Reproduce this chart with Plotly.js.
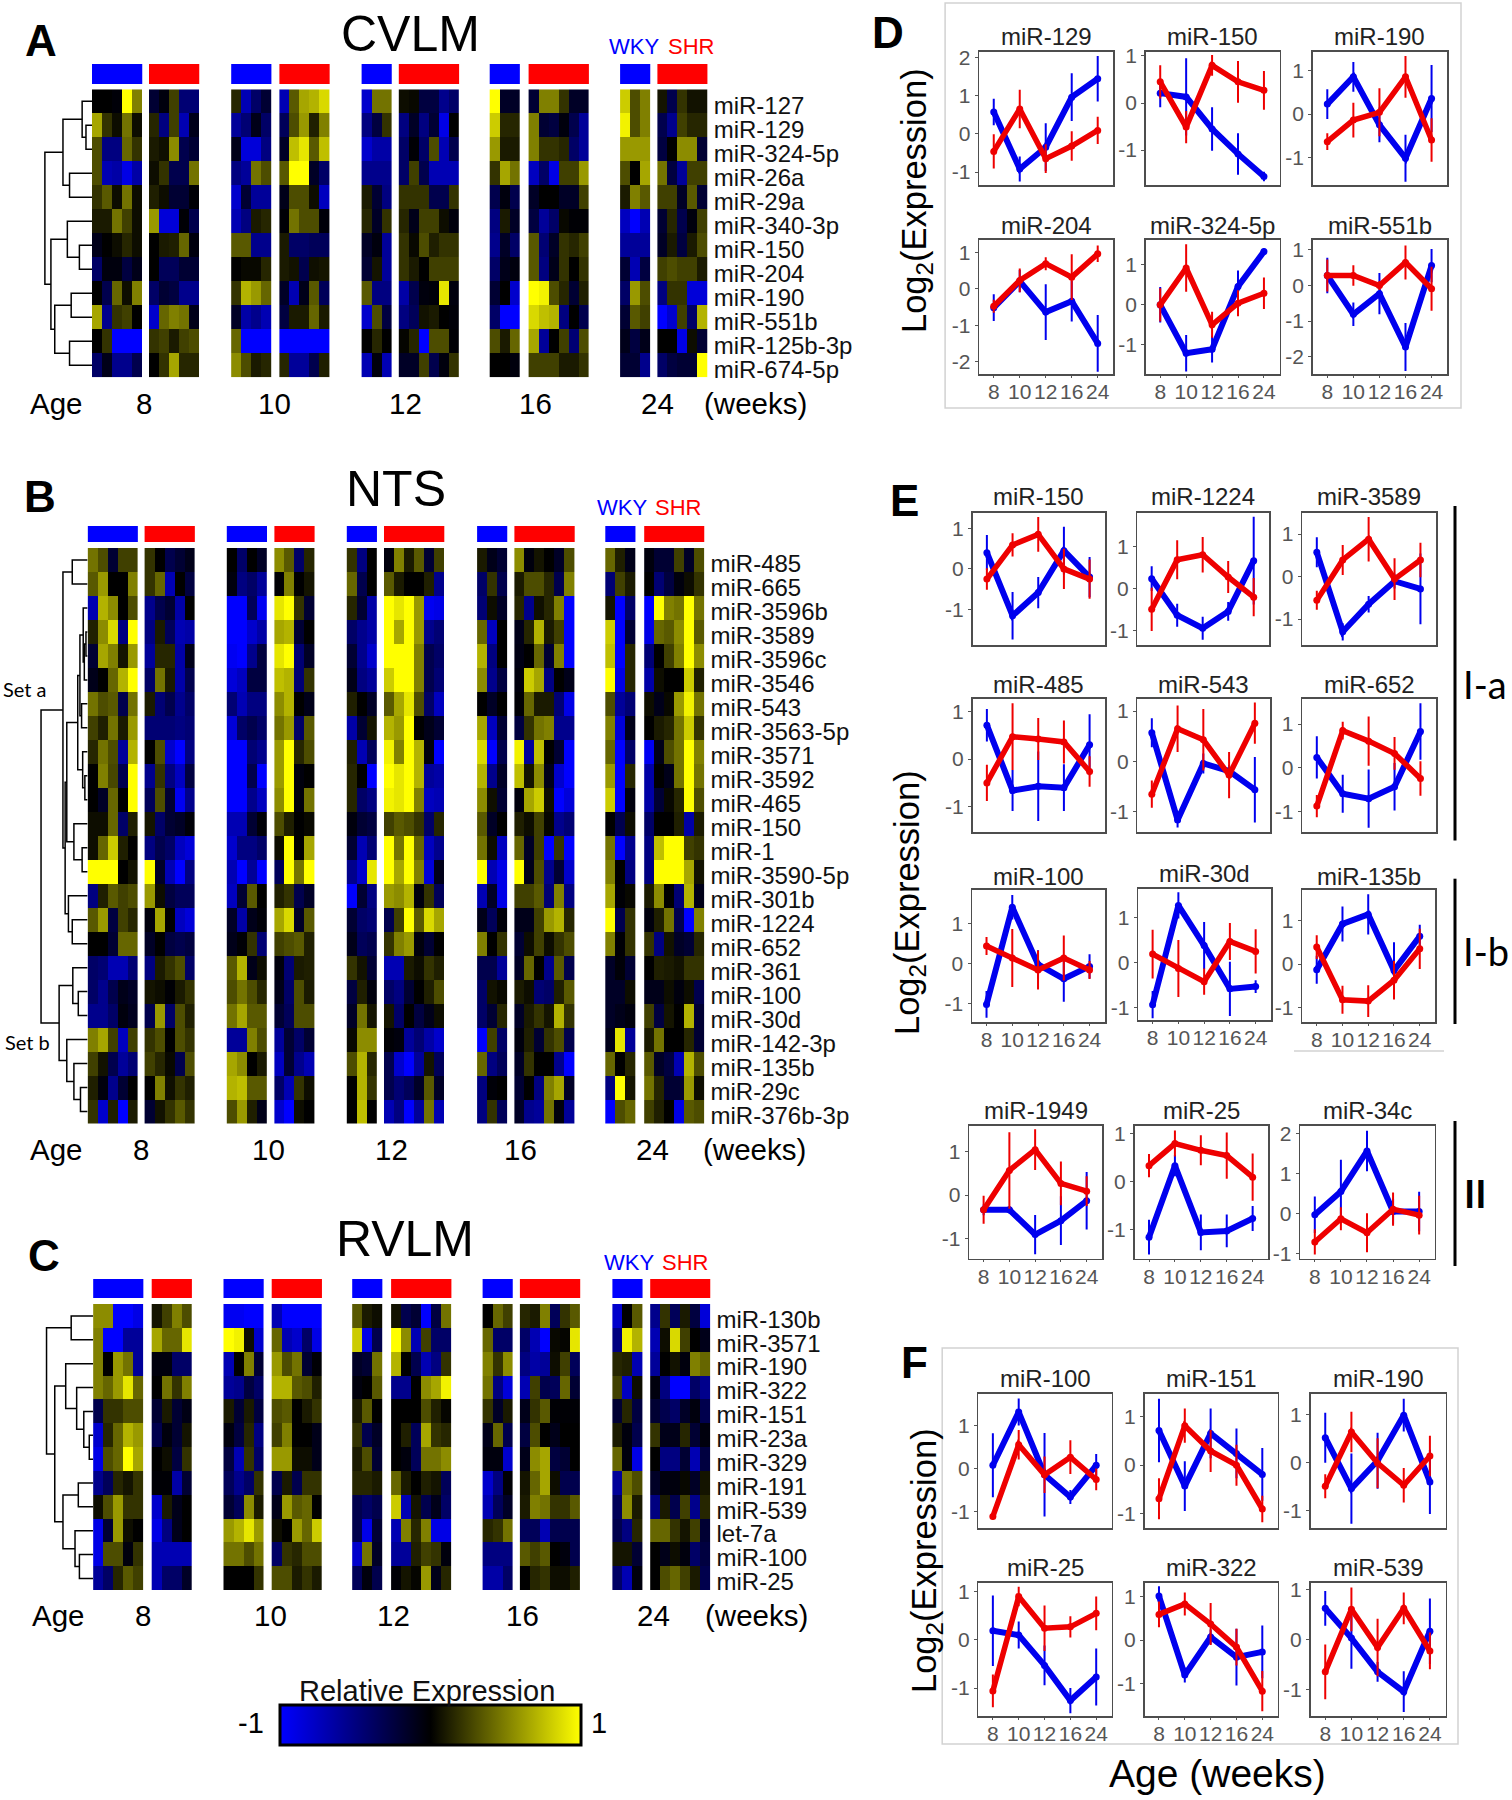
<!DOCTYPE html>
<html><head><meta charset="utf-8">
<script src="https://cdn.plot.ly/plotly-3.0.1.min.js"></script>
<style>html,body{margin:0;padding:0;background:#fff}</style></head>
<body><div id="chart" style="width:1512px;height:1800px"></div>
<script>
// ---------- heatmap data: rows × [8W,8S,10W,10S,12W,12S,16W,16S,24W,24S] ----------
const A_mirs=['miR-127','miR-129','miR-324-5p','miR-26a','miR-29a','miR-340-3p','miR-150','miR-204','miR-190','miR-551b','miR-125b-3p','miR-674-5p'];
const A_values=[
[[0,0,-.03,1,.5],[-.2,-.05,.25,-.45,-.45],[.15,-.7,-.4,-.2],[-.7,.35,.65,.7,.85],[-.8,.45,.45],[.05,.03,-.25,-.25,-.55,-.4],[1,-.15,-.15],[-.2,.5,.5,.2,-.15,-.15],[.8,.3,.5],[.08,-.3,.2,.07,.07]],
[[.65,.2,.05,.45,.05],[.15,-.5,.25,-.7,-.1],[-.6,-.45,-.1,-.4],[-.35,.3,.6,.12,.5],[-.5,-.25,.2],[-.5,-.15,-.5,-.2,-.9,0],[.8,.15,.15],[.5,-.2,-.25,-.05,-.3,-.6],[.95,.3,.5],[-.3,-.55,.25,.15,.15]],
[[.3,-.5,-.5,.4,.2],[.1,.06,.55,-.3,-.2],[-.1,-.85,-.85,-.5],[-.15,.75,.9,.35,.75],[-.8,-.65,-.65],[-.4,-.02,-.4,.3,-.7,-.3],[.6,.1,.1],[.5,.2,.2,.15,-.4,-.6],[.6,.6,.6],[-.25,0,.55,.55,-.2]],
[[.3,-.7,-.65,-.9,-.65],[.05,.2,-.3,-.3,.45],[-.5,-.6,.45,.3],[.35,1,1,-.15,-.4],[-.55,-.55,-.55],[-.4,.25,-.3,-.7,-.7,-.7],[.2,.65,.45],[-.75,-.4,-.9,.25,.25,.6],[.3,0,.65],[.45,-.25,-.6,.25,.25]],
[[.2,.35,.05,.45,.05],[.12,.05,-.2,-.2,-.02],[-.8,-.2,-.6,-.6],[-.1,.3,.3,.05,-.75],[.1,-.2,-.5],[.2,.2,.2,-.3,-.3,.2],[-.3,-.05,-.3],[-.15,0,0,-.15,-.15,.25],[.1,.5,.35],[.25,.25,-.15,.35,-.2]],
[[.1,.1,.45,.25,.05],[.6,-.85,-.85,-.02,-.3],[-.7,-.5,.1,.15],[-.02,.45,.3,.3,-.03],[.15,-.15,.2],[.15,-.1,.25,.25,.05,-.05],[-.5,.1,-.15],[-.25,-.6,-.4,.03,-.02,-.02],[-.75,-1,-.7],[-.2,.15,-.3,-.05,.25]],
[[-.1,0,.05,.15,.05],[0,.1,.12,.4,-.05],[.35,.35,-.55,-.55],[.1,-.4,-.4,-.35,-.35],[-.15,-.05,-.6],[.2,.03,.3,.12,.2,.2],[-.55,-.15,-.4],[.35,-.45,-.15,.2,.15,.25],[-.6,-.6,-.6],[-.15,.1,-.25,.1,.3]],
[[-.4,-.05,-.05,-.25,-.1],[0,-.35,-.35,-.2,-.2],[0,.03,.03,.15],[.1,.07,-.3,.06,.08],[-.2,.08,-.6],[.2,.1,0,.25,.25,.25],[-.4,-.1,-.05],[.35,-.5,-.1,.2,0,.2],[-.2,-.7,-.25],[.25,.3,.25,.25,.1]],
[[0,-.3,.4,.05,.5],[-.4,-.2,-.25,-.55,-.55],[.2,.7,.6,.4],[-.15,-.7,-.1,.35,-.35],[.35,-.5,-.5],[-.65,-.3,-.05,-.03,.9,-.05],[-.2,0,-.8],[1,.95,.3,.15,-.2,.12],[-.4,.6,.3],[-.5,.2,.2,-.85,-.85]],
[[.65,-.55,.2,.25,0],[-.8,.4,.5,.45,-.1],[-.15,-.65,-.55,-.7],[-.25,.1,.1,.4,.1],[-.8,.3,-.25],[-.5,-.35,.07,.1,0,-.03],[-.4,-1,-1],[.85,.75,.7,-.5,0,-.3],[-.2,.35,.25],[-1,-.8,.25,-.4,.7]],
[[0,.2,-1,-1,-1],[.2,.25,.1,.25,.3],[.4,-1,-1,-1],[-1,-1,-1,-1,-1],[0,.15,0],[.02,.15,-1,.3,.3,-.02],[.3,.1,.4],[.65,-.6,0,.25,-.45,.3],[-.1,-.25,-.1],[0,0,-.9,.05,-.2]],
[[-.4,-.1,-.55,-.55,-.3],[0,.2,.65,.15,.15],[.55,.3,.1,.15],[.15,-.6,-.6,-.3,.12],[-.7,-.05,-.7],[-.15,-.15,.25,-.3,-.05,.2],[0,0,-.05],[.25,.25,.25,.1,.1,.2],[-.2,-.2,-.55],[-.4,-.25,-.2,-.2,1]]
];
const B_mirs=['miR-485','miR-665','miR-3596b','miR-3589','miR-3596c','miR-3546','miR-543','miR-3563-5p','miR-3571','miR-3592','miR-465','miR-150','miR-1','miR-3590-5p','miR-301b','miR-1224','miR-652','miR-361','miR-100','miR-30d','miR-142-3p','miR-135b','miR-29c','miR-376b-3p'];
const B_values=[
[[.45,.3,-.2,.25,.25],[.2,0,-.3,-.2,-.1],[0,-.4,0,-.15],[.55,.35,-.4,.15],[.2,-.5,0],[-.05,.5,.1,.35,-.2,.25],[.1,-.1,-.2],[.55,-.05,.08,0,-.15,.3],[.4,.12,-.1],[-.05,-.2,-.2,.25,-.15,.3]],
[[.35,.6,0,0,.5],[.2,.4,-.7,0,-.25],[-.05,-.5,-.4,-.6],[-.02,.5,0,.08],[.4,-.3,0],[.35,.1,0,0,.12,-.55],[-.4,.2,-.3],[.1,.3,.3,.15,-.3,.5],[-.45,.25,.1],[0,-.45,-.25,-.05,.05,.2]],
[[-.7,.7,.55,0,.3],[-.55,-.3,-.2,-.65,0],[-1,-1,-.35,-.95],[.9,1,.2,-.2],[.15,-.2,-.65],[1,.9,1,.6,-.95,-.9],[-.45,.05,-.15],[.15,-.55,.06,.15,.5,-1],[.08,-1,-.4],[-1,1,.5,.45,1,.45]],
[[.13,.55,.85,-.5,1],[-.5,.1,-.35,-.7,-.65],[-1,-1,-.8,-.65],[.65,.7,-.2,0],[-.4,-.55,-.65],[1,.65,1,.6,-.55,-.45],[.4,-.75,0],[-.1,.15,.7,.1,.25,-1],[.8,-1,-.2],[-.9,.4,.35,.55,1,.35]],
[[-.2,.65,.5,.08,.6],[-.6,.15,.15,-.65,-.1],[-.95,-1,-.55,-.25],[.9,1,-.45,-.15],[-.2,-.55,-.8],[1,1,1,.5,-.3,-.4],[.7,-.5,0],[-.08,0,.4,-.2,.5,-1],[.75,-1,.15],[-.45,0,.25,.5,1,.55]],
[[-.1,0,.4,.7,1],[-.4,.45,.1,-.65,-.3],[-.85,-.75,-.25,-.25],[.75,.7,-.45,.2],[-.1,-.5,-.6],[.8,1,1,.5,-.3,-.45],[.55,-.55,-.25],[-.05,.8,.65,-.5,0,-.1],[1,-.9,.15],[-.65,.05,0,0,.8,.12]],
[[.45,.3,.35,-.3,.45],[.1,-.45,-.3,-.55,-.4],[-.45,-.7,-.5,-.5],[.55,.7,0,-.1],[.12,0,-.15],[.35,.65,.9,.3,-.4,-.75],[0,-.15,0],[-.02,.4,.1,.1,-.45,-.9],[.3,-.6,-.45],[.05,-.1,.03,.6,.95,.45]],
[[.25,.12,.45,.1,.6],[-.45,-.45,-.45,-.5,-.45],[-.85,-.4,-.3,-.4],[.45,.6,-.4,.35],[-.65,-.2,.08],[.7,.6,1,0,-.1,-.2],[.65,-.75,-.2],[-.25,.2,.45,.5,-.55,-.55],[.5,-.85,-.1],[0,.1,.15,.45,.8,.2]],
[[.15,.45,.3,-.6,.7],[0,.3,-.8,-1,-.5],[-1,-1,-.45,-.55],[.6,1,.15,.3],[.12,-.7,-.35],[.95,.5,1,.7,-.05,-1],[.85,-1,-.3],[.95,-.6,.75,0,-.2,-1],[.4,-1,-.4],[-.95,-.1,.3,.45,1,.5]],
[[0,.5,.28,-.3,1],[-.55,.2,-.5,-.75,-.25],[-1,-1,-.3,-1],[.6,1,-.05,0],[.15,0,-1],[1,.9,1,.7,-.6,-.65],[.7,-.55,-.15],[.75,.08,.55,-.1,-.8,-1],[.6,-1,.15],[-.65,0,-.1,.45,1,.45]],
[[0,-.15,.4,0,1],[-.35,.3,-.2,-.95,-.55],[-1,-1,-.55,-.75],[.55,1,-.05,.45],[.15,-.4,-.5],[.95,.9,1,.5,-.75,-.7],[.55,.06,-.2],[-.05,.65,.8,.05,-1,-.85],[.8,-1,-.05],[-.65,-.2,.03,.15,1,.3]],
[[.05,.05,.4,-.4,.12],[.08,-.4,-.2,-.15,-.03],[-.7,-.7,-.2,-.03],[.3,.12,0,.03],[-.05,-.2,-.25],[.25,.35,.3,.2,-.4,.15],[.35,-.15,0],[.12,.05,.25,.02,-.55,-.45],[0,-.3,.05],[-.4,0,0,.12,-.65,.1]],
[[.05,.4,.8,.12,0],[-.5,-.3,-.4,-.75,-.85],[-.8,-.5,-.5,-.4],[.05,1,0,.65],[-.2,-.7,-.45],[1,.45,1,.4,-.75,-.55],[.45,.05,-.75],[.4,-.15,.25,-1,.2,-1],[.45,-1,-.55],[-.5,.75,1,1,.25,.2]],
[[1,1,1,0,.07],[1,-.15,-.7,-1,-.5],[-.7,-1,-.6,-1],[-.35,1,.45,1],[-.55,-.8,.9],[1,.65,1,.5,-.85,-.1],[1,-.7,-.9],[1,-.1,.3,-.55,-.2,-.8],[.5,0,-.5],[-.5,1,1,1,.65,.07]],
[[-.5,.12,.35,.25,.3],[.6,.05,-.25,-.35,-.35],[-.75,-.2,.35,0],[.12,.2,-.3,-.15],[-1,-.2,-.5],[.6,.55,.7,-.05,.2,-.35],[-.7,-.15,-.9],[.25,.25,.35,-.45,.5,-.5],[.65,-.02,.03],[.1,.55,0,-.45,.7,-.1]],
[[.35,.6,-.25,.25,.15],[-.05,.65,0,-.75,-.85],[-.15,-.65,-.1,-.03],[.65,.85,-.15,.35],[-.2,-.4,-.45],[-.3,.25,1,.35,.85,.65],[-.1,-.35,-.03],[-.1,-.1,.25,.6,.7,.15],[1,-.3,.2],[-.05,.12,.45,-.3,-1,.5]],
[[0,0,-.2,.4,.4],[-.15,0,-.25,-.3,-.25],[-.1,-.02,.2,-.45],[.25,.3,.35,.12],[-.1,-.35,-.3],[.2,.5,.6,-.05,-.2,0],[.5,0,.2],[-.2,.05,.25,.05,.2,.3],[.5,-.02,.2],[.2,-.5,.07,-.15,-.2,.15]],
[[-.4,-.45,-.7,-.7,-.45],[-.5,.1,.2,.3,-.4],[.35,.7,-.1,.05],[-.05,-.45,.1,.12],[.2,.07,-.2],[-.7,-.7,.1,.05,.2,.12],[-.3,-.3,-.6],[-.15,.4,0,-.55,.35,-.3],[-.15,-.03,-.2],[0,.12,.1,.07,.2,.2]],
[[-.4,-.55,-.3,-.1,-.15],[.08,.05,-.02,.1,.2],[.3,.45,.3,.15],[-.1,-.4,.3,.1],[-.25,.12,-.05],[-.4,-.5,-.2,0,.12,.3],[-.4,.07,.03],[.1,.05,-.45,-.4,.12,.35],[-.15,-.15,.05],[-.1,-.1,.05,-.05,.05,-.3]],
[[-.55,-.55,-.4,-.05,-.12],[-.3,.6,-.4,.3,.12],[.45,.65,.35,.35],[-.2,-.35,.3,.3],[-.15,.45,.08],[.08,-.4,0,-.25,-.1,.05],[-.4,-.2,.15],[-.15,.1,.2,.08,.7,.2],[-.15,-.1,-.05],[.25,-.25,.08,0,.7,-.2]],
[[.5,.65,.25,-.75,.25],[.2,.3,0,.3,.2],[-.6,-.6,.5,.3],[-.6,-.2,-.4,-.2],[.03,.55,.55],[-.02,-.05,-.6,-.45,-.65,-.8],[-1,.25,-.4],[-.05,.12,-.2,.2,.3,-.3],[-.1,.9,-.6],[.1,.45,0,0,.15,-.2]],
[[.25,.07,-.3,-.6,-.45],[.25,.15,.03,-.3,.3],[.65,.55,0,.1],[-.75,-.2,-.55,-.7],[.3,.7,.15],[-.3,-.8,-1,-.6,.08,-.35],[.4,-.5,-.35],[-.15,.2,0,0,-.55,-1],[.4,0,.15],[.35,-.15,-.25,-.7,.7,.3]],
[[.12,-.05,-.55,-.2,0],[0,.5,.06,.2,.12],[.7,.75,.35,.35],[-.4,-.7,.2,.05],[0,.7,.2],[-.3,-.45,-.35,-.15,.35,-.15],[-.5,-.03,0],[-.2,0,-.5,.5,.65,-.15],[-.5,1,.08],[.45,.15,-.2,-.2,.6,.05]],
[[.2,-.8,.12,-1,.1],[-.2,.07,.2,.35,.2],[.3,.6,.12,-.1],[-.8,-1,.05,0],[0,.75,0],[-.7,-.5,-1,-.6,.45,-.7],[-.5,.2,-.35],[-.15,-.55,-.6,.45,-.05,-.6],[-1,.3,.4],[.25,.12,0,-.9,.35,.3]]
];
const C_mirs=['miR-130b','miR-3571','miR-190','miR-322','miR-151','miR-23a','miR-329','miR-191','miR-539','let-7a','miR-100','miR-25'];
const C_values=[
[[.55,.55,-1,-1,-.9],[.08,.25,.5,.3],[-.95,-.95,-1,-1],[-.7,-1,-1,-1,-1],[.35,.1,.05],[.07,-.3,-.2,-1,-.25,.45],[0,.4,.25],[.15,.1,.5,-.35,.2,.35],[-.8,0,.35],[-.55,.2,-.35,.1,-.25,-.85]],
[[.5,-1,-1,-.6,-.6],[.65,.4,.4,.9],[1,.95,.05,-.8],[.4,-.7,-.8,-.4,-.9],[.8,-.9,-.3],[1,.55,-.7,.25,-.4,-.4],[.4,-.4,-.4],[-.4,-.7,-1,.03,.02,.9],[-.5,.95,.7],[-.7,.05,.85,.25,0,-.1]],
[[.5,0,.6,.45,-.6],[-.05,-.05,-.4,-.4],[-.7,0,.5,-.2],[.6,.3,.45,-.2,-.02],[-.15,-.2,.45],[.7,0,-.3,-.7,-.5,.2],[.5,.2,.55],[-.5,-.65,-.6,.05,.25,-.35],[.15,.12,-.7],[-.6,0,.07,-.05,.5,.4]],
[[.5,.4,.6,.9,.4],[0,.45,.2,.5],[-.6,-.55,-.25,-.4],[.7,.7,.35,.3,.12],[-.05,0,.35],[-.55,-.55,0,.55,.65,.95],[.45,-.5,-.85],[-.7,.25,-.3,-.35,.4,-.2],[.25,-.75,.05],[-.05,-.5,-1,-1,-.4,-.55]],
[[-.3,.2,.2,.3,.3],[-.2,.1,-.2,-.08],[.1,-.2,.1,-.25],[.3,.35,0,.1,.2],[.1,.35,0],[0,0,0,.3,.12,.02],[.2,-.15,.1],[-.1,.2,.35,-.02,-.02,-.02],[-.2,.15,-.25],[-.2,-.3,-.4,-.15,-.05,-.3]],
[[-.8,.15,.4,.7,.6],[-.3,-.05,-.2,.08],[-.05,-.25,.15,-.5],[.25,.5,0,0,-.1],[.2,-.3,-.15],[0,.12,-.35,.65,.2,.15],[-.1,.4,-.3],[-.25,.3,0,-.1,0,0],[.1,-.05,-.3],[.2,-.1,-.1,.15,-.2,-.05]],
[[-.9,.3,.4,1,.65],[0,.05,-.25,.2],[-.25,-.7,.2,-.4],[.6,.6,.05,.05,-.1],[.1,.3,-.2],[0,-.05,-.35,.45,.45,.55],[-.05,-.05,-.8],[-.1,.55,.65,-.25,-.2,0],[.4,-.05,-.9],[0,-.5,-.5,-.2,-.7,-.25]],
[[-.55,-.35,.15,.08,.2],[-.02,-.02,-.65,-.2],[-.35,-.55,-.4,.2],[-.3,.1,-.3,.2,.2],[.15,.15,.1],[.4,.1,0,.12,.08,-.35],[-.8,-.5,-.02],[.08,.4,.65,.05,-.3,-.3],[-.6,.45,.3],[-.15,-.05,-.05,.03,-.15,.08]],
[[.05,.3,.6,.2,.2],[-.8,.1,-.1,0],[-.2,-.35,.55,.1],[-.1,.6,.35,.4,0],[-.3,-.4,-.3],[.8,-.7,.08,-.3,-.1,-.4],[-.7,-.35,-.15],[.1,.5,.45,.2,.2,.35],[-.35,.55,.1],[-.5,.1,-.3,.25,-.55,.15]],
[[-.9,-.2,.6,.05,0],[-.9,-.5,-.1,0],[.6,.7,.9,.6],[.05,0,.6,.4,.8],[-.3,-.9,-.2],[-.7,.5,.15,.5,-.9,-.9],[.15,.2,.45],[-.35,-.35,-.7,-.3,-.3,-.3],[-.3,-.5,.15],[.4,.4,.2,.08,.25,-.2]],
[[-.9,.3,.3,-.05,.2],[-.7,-.7,-.7,-.7],[.45,.45,.3,.45],[-.4,.2,.15,.3,.3],[-.8,.45,-.15],[-.6,-.6,.12,.25,.2,-.05],[-.5,-.5,-.5],[.35,.25,.35,0,-.05,-.3],[.08,.08,-.2],[0,-.1,.05,-.05,-.4,-.25]],
[[-.6,-.4,.15,.35,.25],[-.7,-.4,-.4,-.15],[0,0,0,.2],[.3,.3,.1,.2,.1],[-.35,-.05,-.3],[-.02,.08,.02,.6,-.1,.15],[-.65,-.65,-.4],[0,.15,.2,.05,.05,.12],[-.4,-.7,-.05],[0,.3,.4,.25,.1,-.3]]
];
// dendrograms: nested [height, childA, childB]; a leaf is a row index
const A_tree=[86,[53,[18,0,[11,1,2]],[41,3,4]],[75,[45,5,[23,6,7]],[68,[38,8,9],[41,10,11]]]];
const B_tree=[85,[45,[28,0,1],[41,[38,[18,[14,[8,2,[6,[3,3,4],5]],[11,6,7]],[9,8,[5,9,10]]],[25,11,[10,12,13]]],[35,14,[28,15,16]]]],[52,[27,17,[17,18,19]],[38,20,[25,21,[13,22,23]]]]];
const C_tree=[85,[40,0,1],[70,[50,2,[30,3,[17,4,[7,5,6]]]],[55,[27,7,8],[33,9,[25,10,11]]]]];
const ageLabels=['8','10','12','16','24'];

// ---------- line panel data ----------
const ages=['8','10','12','16','24'];
const D_names=['miR-129','miR-150','miR-190','miR-204','miR-324-5p','miR-551b'];
const D_wky=[[.57,-.92,-.35,.96,1.44],[.21,.13,-.55,-1.08,-1.56],[.23,.86,-.25,-1.02,.36],[-.52,.21,-.64,-.34,-1.5],[0,-1.21,-1.11,.46,1.33],[.28,-.81,-.23,-1.73,.56]];
const D_wkyErr=[[.32,.3,.6,.6,.57],[.28,.8,.44,.42,.08],[.32,.32,.38,.52,.75],[.34,.28,.74,.53,.75],[.42,.43,.31,.37,.05],[.47,.3,.55,.65,.44]];
const D_shr=[[-.46,.65,-.65,-.32,.09],[.45,-.51,.8,.45,.27],[-.64,-.14,.04,.86,-.6],[-.48,.23,.69,.32,.96],[0,.92,-.5,.04,.29],[.28,.28,0,.65,-.09]];
const D_shrErr=[[.42,.48,.35,.36,.33],[.33,.32,.2,.42,.39],[.17,.38,.53,.46,.48],[.15,.3,.15,.6,.2],[.39,.57,.3,.3,.37],[.42,.26,.1,.45,.59]];
const D_ranges=[[-1.34,2.15],[-1.74,1.09],[-1.64,1.44],[-2.34,1.34],[-1.73,1.62],[-2.49,1.28]];
const E_names=['miR-150','miR-1224','miR-3589','miR-485','miR-543','miR-652','miR-100','miR-30d','miR-135b','miR-1949','miR-25','miR-34c'];
const E_wky=[[.4,-1.15,-.58,.45,-.2],[.23,-.64,-.95,-.55,.66],[.57,-1.3,-.65,-.11,-.29],[.71,-.66,-.57,-.6,.3],[.57,-1.16,-.04,-.19,-.56],[.24,-.59,-.7,-.43,.83],[-1.03,1.4,-.03,-.39,-.08],[-.93,1.27,.38,-.58,-.53],[-.13,.92,1.14,-.15,.64],[-.34,-.34,-.91,-.59,-.13],[-1.15,.34,-1.05,-1.02,-.76],[-.02,.56,1.57,.06,.06]];
const E_wkyErr=[[.41,.56,.36,.56,.47],[.27,.25,.25,.2,1.02],[.33,.18,.17,.15,.81],[.32,.41,.71,.47,.62],[.27,.13,.18,.1,.63],[.46,.41,.64,.52,.62],[.31,.28,.33,.55,.28],[.28,.27,.5,.58,.12],[.3,.38,.44,.63,.24],[.1,.06,.43,.54,.64],[.34,.2,.35,.32,.24],[.43,.77,.48,.3,.47]];
const E_shr=[[-.25,.59,.85,0,-.25],[-.5,.68,.8,.27,-.21],[-.56,.39,.88,-.06,.39],[-.5,.47,.42,.36,-.26],[-.65,.65,.43,-.27,.76],[-.87,.85,.61,.33,-.24],[.43,.13,-.17,.13,-.17],[.19,-.13,-.42,.47,.25],[.39,-.82,-.85,-.37,.35],[-.34,.57,1.05,.27,.09],[.34,.8,.66,.55,.1],[-.7,-.12,-.47,.12,-.03]];
const E_shrErr=[[.24,.26,.4,.47,.46],[.49,.44,.4,.36,.43],[.2,.33,.5,.47,.38],[.36,.68,.42,.43,.3],[.25,.44,.59,.44,.39],[.23,.18,.54,.35,.37],[.2,.7,.46,.54,.2],[.52,.61,.27,.39,.47],[.25,.3,.34,.42,.44],[.3,.86,.45,.48,.32],[.22,.25,.29,.46,.47],[.29,.26,.46,.39,.46]];
const E_ranges=[[-1.87,1.38],[-1.35,1.8],[-1.61,1.5],[-1.53,1.26],[-1.4,1.24],[-1.46,1.57],[-1.47,1.83],[-1.27,1.64],[-1.33,1.7],[-1.47,1.6],[-1.6,1.17],[-1.12,2.2]];
const F_names=['miR-100','miR-151','miR-190','miR-25','miR-322','miR-539'];
const F_wky=[[.08,1.32,-.14,-.66,.08],[.71,-.43,.65,.24,-.19],[.51,-.55,.03,.98,-.41],[.19,.1,-.53,-1.26,-.77],[1.01,-.8,.07,-.39,-.27],[.63,.03,-.65,-1.05,.17]];
const F_wkyErr=[[.72,.29,.95,.14,.24],[.63,.49,.49,.49,.52],[.5,.71,.56,.32,.65],[.71,.26,.39,.24,.57],[.2,.15,.15,.63,.58],[.33,.6,.18,.39,.64]];
const F_shr=[[-1.11,.56,-.14,.27,-.25],[-.69,.81,.29,0,-.9],[-.5,.63,-.02,-.48,.13],[-1.06,.9,.24,.27,.55],[.59,.83,.37,-.16,-1.17],[-.65,.61,-.16,.63,-.23]];
const F_shrErr=[[.05,.32,.4,.37,.23],[.4,.33,.41,.4,.25],[.23,.4,.5,.34,.4],[.32,.18,.45,.2,.33],[.27,.24,.46,.4,.44],[.53,.42,.56,.3,.35]];
const F_ranges=[[-1.38,1.74],[-1.29,1.46],[-1.37,1.42],[-1.58,1.18],[-1.74,1.31],[-1.54,1.14]];

// ---------- page geometry (pixels) ----------
const W=1512,H=1800,cell=10.05,FONT='"Liberation Sans",Arial,sans-serif',LATO='Lato,sans-serif';
const px=v=>v/W, py=v=>1-v/H;
const traces=[],annotations=[],shapes=[],layout={};
const colorscale=[[0,'#0000ff'],[.5,'#000000'],[1,'#ffff00']];
let axisN=0;
function text(t,x,y,size,opts={}){annotations.push(Object.assign({text:t,xref:'paper',yref:'paper',x:px(x),y:py(y),xanchor:'center',yanchor:'middle',showarrow:false,font:{family:FONT,size,color:opts.color||'#000'}},opts.extra||{}));}

function dendro(tree,xs,ys){
  function walk(n){
    if(typeof n==='number')return{y:n,h:0};
    const a=walk(n[1]),b=walk(n[2]),h=n[0];
    xs.push(a.h,h,h,b.h,null);ys.push(a.y,a.y,b.y,b.y,null);
    return{y:(a.y+b.y)/2,h};
  }
  walk(tree);
}
function heatPanel(cfg){
  const n=cfg.mirs.length,right=cfg.lefts[9]+cfg.counts[9]*cell;
  const xi=++axisN,k=axisN===1?'':axisN;
  layout['xaxis'+xi]={domain:[px(cfg.lefts[0]),px(right)],range:[cfg.lefts[0],right],visible:false,anchor:'y'+k,fixedrange:true};
  layout['yaxis'+xi]={domain:[py(cfg.bottom),py(cfg.top)],range:[n-.5,-.5],anchor:'x'+k,side:'right',tickmode:'array',tickvals:cfg.mirs.map((_,i)=>i+cfg.labelShift),ticktext:cfg.mirs,
    tickfont:{family:FONT,size:24,color:'#111'},ticks:'',showgrid:false,zeroline:false,showline:false,ticklabelstandoff:5};
  cfg.counts.forEach((c,g)=>{
    const xs=[];for(let i=0;i<c;i++)xs.push(cfg.lefts[g]+(i+.5)*cell);
    const t={type:'heatmap',x:xs,y:cfg.mirs.map((_,i)=>i),z:cfg.values.map(r=>r[g]),zmin:-1,zmax:1,colorscale,showscale:false,xaxis:'x'+k,yaxis:'y'+k,hoverinfo:'skip'};
    if(cfg.legend&&g===0){t.showscale=true;t.colorbar=cfg.legend;}
    traces.push(t);
    shapes.push({type:'rect',xref:'x'+k,yref:'paper',x0:cfg.lefts[g],x1:cfg.lefts[g]+c*cell,y0:py(cfg.barBottom),y1:py(cfg.barTop),fillcolor:g%2?'#ff0000':'#0000ff',line:{width:0}});
  });
  const di=++axisN;
  const span=cfg.dendroSpan;
  layout['xaxis'+di]={domain:[px(cfg.lefts[0]-span*.5478),px(cfg.lefts[0])],range:[span,0],visible:false,anchor:'y'+di,fixedrange:true};
  layout['yaxis'+di]={domain:layout['yaxis'+xi].domain,range:[n-.5,-.5],visible:false,anchor:'x'+di,fixedrange:true};
  const dx=[],dy=[];dendro(cfg.tree,dx,dy);
  traces.push({type:'scatter',mode:'lines',x:dx,y:dy,xaxis:'x'+di,yaxis:'y'+di,line:{color:'#000',width:1.5},hoverinfo:'skip',showlegend:false});
  text(cfg.title,cfg.titleX,cfg.titleY,50);
  text('<b>'+cfg.letter+'</b>',cfg.letterX,cfg.letterY,44);
  text('WKY',cfg.wkyX,cfg.keyY,22,{color:'#0000ff'});
  text('SHR',cfg.shrX,cfg.keyY,22,{color:'#ff0000'});
  text('Age',cfg.ageX,cfg.ageY,29.5);
  ageLabels.forEach((a,i)=>text(a,cfg.agePos[i],cfg.ageY,29.5));
  text('(weeks)',cfg.weeksX,cfg.ageY,29.5);
}
const legendBar={orientation:'h',lenmode:'pixels',len:301,thicknessmode:'pixels',thickness:40,x:px(430),xanchor:'center',y:py(1748),yanchor:'bottom',
  outlinecolor:'#000',outlinewidth:3,xpad:0,ypad:0,ticks:'',showticklabels:false,tickvals:[]};
heatPanel({mirs:A_mirs,values:A_values,tree:A_tree,labelShift:.19,counts:[5,5,4,5,3,6,3,6,3,5],lefts:[92,149,231.2,279.4,361.6,398.8,489.7,528.6,620.1,657.4],top:89.3,bottom:377.3,barTop:64,barBottom:84,dendroSpan:90,
  title:'CVLM',titleX:410,titleY:34,letter:'A',letterX:41,letterY:40,wkyX:634,shrX:691,keyY:46,ageX:56,ageY:403,agePos:[144,274,405,535,657],weeksX:755});
heatPanel({mirs:B_mirs,values:B_values,tree:B_tree,labelShift:.17,counts:[5,5,4,4,3,6,3,6,3,6],lefts:[87.6,144.6,226.8,274.4,346.8,384,477.1,514.4,605.3,644.2],top:548,bottom:1123.5,barTop:526,barBottom:542,dendroSpan:90,
  title:'NTS',titleX:395.5,titleY:489,letter:'B',letterX:39.5,letterY:497,wkyX:622,shrX:678,keyY:507,ageX:56,ageY:1149,agePos:[141,268,391,520,652],weeksX:754});
heatPanel({mirs:C_mirs,values:C_values,tree:C_tree,labelShift:.14,legend:legendBar,counts:[5,4,4,5,3,6,3,6,3,6],lefts:[93.1,151.7,223.5,271.7,352.2,391.1,482.6,519.9,612.4,650.2],top:1304,bottom:1590.4,barTop:1279,barBottom:1298,dendroSpan:90,
  title:'RVLM',titleX:405,titleY:1239,letter:'C',letterX:43.5,letterY:1255,wkyX:629,shrX:685,keyY:1262,ageX:58,ageY:1615,agePos:[143,270,393,522,653.5],weeksX:756});
text('Set a',24.5,689,20,{extra:{font:{family:LATO,size:20,color:'#000'}}});
text('Set b',27.5,1042,20,{extra:{font:{family:LATO,size:20,color:'#000'}}});
text('Relative Expression',427,1691,29,{color:'#111'});
text('-1',251,1723,29);
text('1',599,1723,29);

function linePanel(name,wky,wkyErr,shr,shrErr,yr,box,titleY,showX){
  const i=++axisN;
  layout['xaxis'+i]={domain:[px(box[0]),px(box[1])],type:'category',categoryorder:'array',categoryarray:ages,range:[-.56,4.6],anchor:'y'+i,mirror:true,showline:true,linecolor:'#4d4d4d',linewidth:1.6,showgrid:false,zeroline:false,
    tickmode:'array',tickvals:ages,ticktext:ages,tickangle:0,showticklabels:showX,ticks:showX?'outside':'',ticklen:2,tickcolor:'#555',tickfont:{family:FONT,size:21,color:'#555'},ticklabelstandoff:-4};
  const tv=[];for(let v=Math.ceil(yr[0]);v<=Math.floor(yr[1]);v++)tv.push(v);
  layout['yaxis'+i]={domain:[py(box[3]),py(box[2])],range:yr,anchor:'x'+i,mirror:true,showline:true,linecolor:'#4d4d4d',linewidth:1.6,showgrid:false,zeroline:false,
    tickmode:'array',tickvals:tv,ticktext:tv.map(String),ticks:'outside',ticklen:3,tickcolor:'#555',tickfont:{family:FONT,size:21,color:'#555'}};
  [[wky,wkyErr,'#0000ee',6],[shr,shrErr,'#ee0000',5.5]].forEach(s=>{
    traces.push({type:'scatter',mode:'lines+markers',x:ages,y:s[0],xaxis:'x'+i,yaxis:'y'+i,line:{color:s[2],width:s[3]},marker:{color:s[2],size:7},
      error_y:{type:'data',array:s[1],visible:true,color:s[2],thickness:2,width:1},hoverinfo:'skip',showlegend:false,cliponaxis:false});
  });
  text(name,(box[0]+box[1])/2,titleY,24,{color:'#222'});
}
// Panel D
const D_cols=[[979.2,1113.3],[1145.7,1279.5],[1312.7,1447.2]],D_rows=[[51.7,185,36],[240,374,225]];
D_names.forEach((n,i)=>{const c=D_cols[i%3],r=D_rows[Math.floor(i/3)];linePanel(n,D_wky[i],D_wkyErr[i],D_shr[i],D_shrErr[i],D_ranges[i],[c[0],c[1],r[0],r[1]],r[2],i>=3);});
// Panel E (I-a, I-b, II)
const E_boxes=[[972.5,1105,512.8,645],[1137.4,1269,512.8,645],[1302.3,1436,512.8,645],[972.5,1105,699,832],[1137.4,1270.3,699,832],[1302.3,1436,699,832],[972.1,1105,890,1022],[1138.2,1271.1,888.7,1020],[1302.3,1435.2,890,1022],[969.2,1102.1,1125.8,1258.8],[1134.5,1268.2,1125.8,1258.8],[1300.2,1434.8,1125.8,1258.8]];
const E_titleY=[497,497,497,684,684,684,876,874,876,1110.5,1110.5,1110.5];
E_names.forEach((n,i)=>linePanel(n,E_wky[i],E_wkyErr[i],E_shr[i],E_shrErr[i],E_ranges[i],E_boxes[i],E_titleY[i],i>=6));
// Panel F
const F_cols=[[978.4,1111.7],[1144.5,1277.8],[1310.6,1445.6]],F_rows=[[1394,1528,1378],[1583,1716,1567.5]];
F_names.forEach((n,i)=>{const c=F_cols[i%3],r=F_rows[Math.floor(i/3)];linePanel(n,F_wky[i],F_wkyErr[i],F_shr[i],F_shrErr[i],F_ranges[i],[c[0],c[1],r[0],r[1]],r[2],i>=3);});

const rotated={textangle:-90};
const logLabel='Log<sub>2</sub>(Expression)';
text(logLabel,916,201,34.5,{extra:rotated});
text(logLabel,909,903,34.5,{extra:rotated});
text(logLabel,926,1561,34.5,{extra:rotated});
text('Age (weeks)',1217,1773,39);
text('<b>D</b>',888,33,44);
text('<b>E</b>',905,500,44);
text('<b>F</b>',914,1362,44);
[['I-a',1485,684],['I-b',1486,951],['<b>II</b>',1475,1193]].forEach(t=>text(t[0],t[1],t[2],38,{extra:{font:{family:LATO,size:38,color:'#000'}}}));
// frames and group rules
function rect(x0,x1,y0,y1){shapes.push({type:'rect',xref:'paper',yref:'paper',x0:px(x0),x1:px(x1),y0:py(y0),y1:py(y1),line:{color:'#d2d2d2',width:1.5},fillcolor:'rgba(0,0,0,0)',layer:'below'});}
function vline(x,y0,y1){shapes.push({type:'line',xref:'paper',yref:'paper',x0:px(x),x1:px(x),y0:py(y0),y1:py(y1),line:{color:'#000',width:3}});}
rect(945.1,1461,3,408);
rect(942.2,1458,1348,1744);
vline(1455,506,840.5);vline(1455,878.7,1024);vline(1455,1121,1266);
shapes.push({type:'line',xref:'paper',yref:'paper',x0:px(1294),x1:px(1444),y0:py(1051),y1:py(1051),line:{color:'#d2d2d2',width:1.5}});

Object.assign(layout,{width:W,height:H,margin:{l:0,r:0,t:0,b:0,pad:0,autoexpand:false},paper_bgcolor:'#fff',plot_bgcolor:'#fff',showlegend:false,annotations,shapes});
Plotly.newPlot('chart',traces,layout,{displayModeBar:false,staticPlot:true});
</script></body></html>
